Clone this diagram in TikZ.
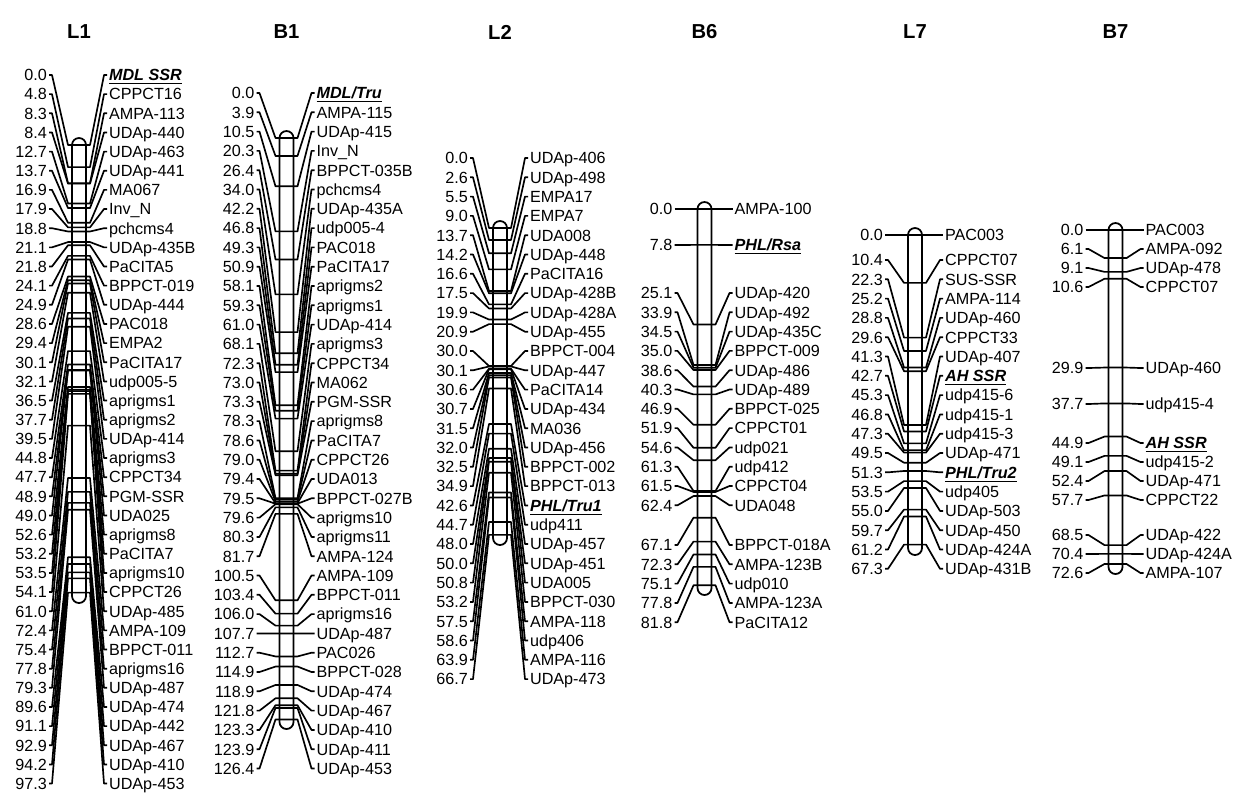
\documentclass[tikz,border=0pt]{standalone}
\usepackage{fontspec}
\setmainfont{Liberation Sans}
\usetikzlibrary{calc}

% highlighted markers
\newcommand{\hlmk}[1]{\underline{\textbf{\textit{#1}}}}
\newcommand{\mdlssr}{\hlmk{MDL SSR}}
\newcommand{\mdltru}{\hlmk{MDL/Tru}}
\newcommand{\phltruA}{\hlmk{PHL/Tru1}}
\newcommand{\phltruB}{\hlmk{PHL/Tru2}}
\newcommand{\phlrsa}{\hlmk{PHL/Rsa}}
\newcommand{\ahssr}{\hlmk{AH SSR}}

\tikzset{
  chrbar/.style={draw,line width=1pt,fill=white,rounded corners=0.14cm},
  chrtitle/.style={font=\fontsize{11.5}{13}\selectfont\bfseries},
  poslbl/.style={anchor=east,inner sep=1pt,font=\fontsize{9.2}{11}\selectfont,text height=6.6pt,text depth=0pt},
  mklbl/.style={anchor=west,inner sep=1pt,font=\fontsize{9.2}{11}\selectfont,text height=6.6pt,text depth=0pt},
  conn/.style={line width=0.95pt,line join=round}
}

% id, centre x, top, bottom, title
\newcommand{\chrbar}[5]{%
  \node[chrtitle] (#1-t) at (#2,32) {#5};
  \draw[chrbar] (#2-7,#3) rectangle (#2+7,#4);
}
% id, centre x, y of 0 cM, y of first label, label spacing, list pos/name
\newcommand{\markers}[6]{%
  \foreach \p/\mk [count=\i] in {#6} {
    \pgfmathsetmacro{\my}{#3+4.6*\p}
    \pgfmathsetmacro{\ly}{#4+#5*(\i-1)}
    \coordinate (#1-a\i) at (#2-7,\my);
    \coordinate (#1-b\i) at (#2+7,\my);
    \node[poslbl] (#1-p\i) at (#2-30,\ly) {\p};
    \node[mklbl] (#1-m\i) at (#2+28,\ly) {\mk};
    \draw[conn] (#1-p\i.east) -- ++(3,0) -- ($(#1-a\i)+(-4,0)$) -- (#1-a\i) -- (#1-b\i)
      -- ($(#1-b\i)+(4,0)$) -- ($(#1-m\i.west)+(-3,0)$) -- (#1-m\i.west);
  }%
}

\begin{document}
\begin{tikzpicture}[x=0.02cm,y=-0.02cm]
  \path[fill=white,use as bounding box] (0,0) rectangle (1236,796);

  % L1
  \chrbar{L1}{79}{138}{603}{L1}
  \markers{L1}{79}{145}{75}{19.15}{0.0/\mdlssr, 4.8/CPPCT16, 8.3/AMPA-113, 8.4/UDAp-440,
    12.7/UDAp-463, 13.7/UDAp-441, 16.9/MA067, 17.9/Inv\_N, 18.8/pchcms4, 21.1/UDAp-435B,
    21.8/PaCITA5, 24.1/BPPCT-019, 24.9/UDAp-444, 28.6/PAC018, 29.4/EMPA2, 30.1/PaCITA17,
    32.1/udp005-5, 36.5/aprigms1, 37.7/aprigms2, 39.5/UDAp-414, 44.8/aprigms3, 47.7/CPPCT34,
    48.9/PGM-SSR, 49.0/UDA025, 52.6/aprigms8, 53.2/PaCITA7, 53.5/aprigms10, 54.1/CPPCT26,
    61.0/UDAp-485, 72.4/AMPA-109, 75.4/BPPCT-011, 77.8/aprigms16, 79.3/UDAp-487,
    89.6/UDAp-474, 91.1/UDAp-442, 92.9/UDAp-467, 94.2/UDAp-410, 97.3/UDAp-453}

  % B1
  \chrbar{B1}{286.5}{131}{729}{B1}
  \markers{B1}{286.5}{138}{93}{19.3}{0.0/\mdltru, 3.9/AMPA-115, 10.5/UDAp-415, 20.3/Inv\_N,
    26.4/BPPCT-035B, 34.0/pchcms4, 42.2/UDAp-435A, 46.8/udp005-4, 49.3/PAC018,
    50.9/PaCITA17, 58.1/aprigms2, 59.3/aprigms1, 61.0/UDAp-414, 68.1/aprigms3,
    72.3/CPPCT34, 73.0/MA062, 73.3/PGM-SSR, 78.3/aprigms8, 78.6/PaCITA7, 79.0/CPPCT26,
    79.4/UDA013, 79.5/BPPCT-027B, 79.6/aprigms10, 80.3/aprigms11, 81.7/AMPA-124,
    100.5/AMPA-109, 103.4/BPPCT-011, 106.0/aprigms16, 107.7/UDAp-487, 112.7/PAC026,
    114.9/BPPCT-028, 118.9/UDAp-474, 121.8/UDAp-467, 123.3/UDAp-410, 123.9/UDAp-411,
    126.4/UDAp-453}

  % L2
  \chrbar{L2}{500}{221}{545}{L2}
  \markers{L2}{500}{228}{158}{19.3}{0.0/UDAp-406, 2.6/UDAp-498, 5.5/EMPA17, 9.0/EMPA7,
    13.7/UDA008, 14.2/UDAp-448, 16.6/PaCITA16, 17.5/UDAp-428B, 19.9/UDAp-428A,
    20.9/UDAp-455, 30.0/BPPCT-004, 30.1/UDAp-447, 30.6/PaCITA14, 30.7/UDAp-434,
    31.5/MA036, 32.0/UDAp-456, 32.5/BPPCT-002, 34.9/BPPCT-013, 42.6/\phltruA,
    44.7/udp411, 48.0/UDAp-457, 50.0/UDAp-451, 50.8/UDA005, 53.2/BPPCT-030,
    57.5/AMPA-118, 58.6/udp406, 63.9/AMPA-116, 66.7/UDAp-473}

  % B6
  \chrbar{B6}{704.5}{202}{595}{B6}
  \markers{B6a}{704.5}{209}{209}{19.3}{0.0/AMPA-100}
  \markers{B6b}{704.5}{209}{245}{19.3}{7.8/\phlrsa}
  \markers{B6c}{704.5}{209}{293}{19.3}{25.1/UDAp-420, 33.9/UDAp-492, 34.5/UDAp-435C,
    35.0/BPPCT-009, 38.6/UDAp-486, 40.3/UDAp-489, 46.9/BPPCT-025, 51.9/CPPCT01,
    54.6/udp021, 61.3/udp412, 61.5/CPPCT04, 62.4/UDA048}
  \markers{B6d}{704.5}{209}{545}{19.3}{67.1/BPPCT-018A, 72.3/AMPA-123B, 75.1/udp010,
    77.8/AMPA-123A, 81.8/PaCITA12}

  % L7
  \chrbar{L7}{915}{228}{555}{L7}
  \markers{L7a}{915}{235}{235}{19.3}{0.0/PAC003}
  \markers{L7b}{915}{235}{260}{19.3}{10.4/CPPCT07, 22.3/SUS-SSR, 25.2/AMPA-114,
    28.8/UDAp-460, 29.6/CPPCT33, 41.3/UDAp-407, 42.7/\ahssr, 45.3/udp415-6,
    46.8/udp415-1, 47.3/udp415-3, 49.5/UDAp-471, 51.3/\phltruB, 53.5/udp405,
    55.0/UDAp-503, 59.7/UDAp-450, 61.2/UDAp-424A, 67.3/UDAp-431B}

  % B7
  \chrbar{B7}{1115.5}{223}{574}{B7}
  \markers{B7a}{1115.5}{230}{230}{19}{0.0/PAC003, 6.1/AMPA-092, 9.1/UDAp-478, 10.6/CPPCT07}
  \markers{B7b}{1115.5}{230}{368}{19}{29.9/UDAp-460}
  \markers{B7c}{1115.5}{230}{404}{19}{37.7/udp415-4}
  \markers{B7d}{1115.5}{230}{443}{19}{44.9/\ahssr, 49.1/udp415-2, 52.4/UDAp-471, 57.7/CPPCT22}
  \markers{B7e}{1115.5}{230}{535}{19}{68.5/UDAp-422, 70.4/UDAp-424A, 72.6/AMPA-107}
\end{tikzpicture}
\end{document}
